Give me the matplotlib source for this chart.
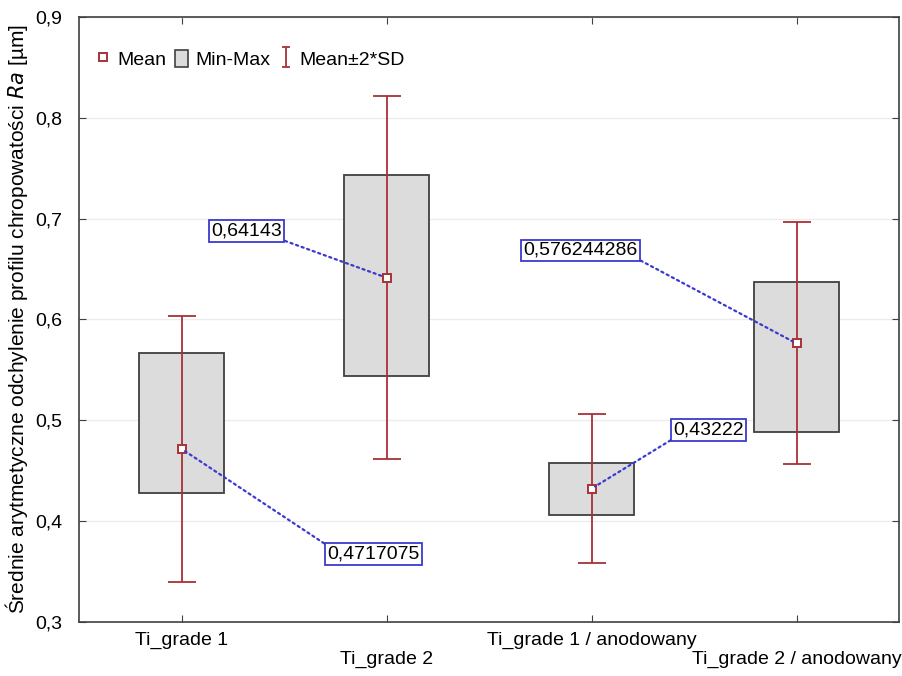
import matplotlib.pyplot as plt
from matplotlib.lines import Line2D
from matplotlib.patches import Patch
from matplotlib.path import Path

plt.rcParams['font.family'] = ['Liberation Sans', 'DejaVu Sans']

# dane
grupy = ["Ti_grade 1", "Ti_grade 2", "Ti_grade 1 / anodowany", "Ti_grade 2 / anodowany"]
srednia = [0.4717075, 0.64143, 0.43222, 0.576244286]
etykiety = ["0,4717075", "0,64143", "0,43222", "0,576244286"]
minimum = [0.428, 0.544, 0.406, 0.488]
maksimum = [0.567, 0.743, 0.458, 0.637]
dwa_sd = [0.132, 0.180, 0.074, 0.120]
y_ticks = [0.3, 0.4, 0.5, 0.6, 0.7, 0.8, 0.9]

# polozenie opisow (naroznik tekstu) i punkt zaczepienia linii
opis_xy = [(0.71, 0.376), (0.49, 0.679), (2.40, 0.482), (2.225, 0.660)]
opis_align = [("left", "top"), ("right", "bottom"), ("left", "bottom"), ("right", "bottom")]
opis_rel = [(0, 1), (1, 0), (0, 0), (1, 0)]

czerwony = '#a83236'
niebieski = '#3a3ad0'
fs = 14

fig = plt.figure(figsize=(9.02, 6.76), dpi=100)
ax = fig.add_axes([0.0876, 0.0799, 0.9091, 0.895])

x = range(len(grupy))
for i in x:
    ax.bar(i, maksimum[i] - minimum[i], bottom=minimum[i], width=0.41,
           color='#dcdcdc', edgecolor='#404040', linewidth=1.3, zorder=2)
ax.errorbar(list(x), srednia, yerr=dwa_sd, fmt='none', ecolor=czerwony,
            elinewidth=1.3, capsize=10, capthick=1.3, zorder=3)
ax.plot(list(x), srednia, 's', markersize=6, markerfacecolor='white',
        markeredgecolor=czerwony, markeredgewidth=1.4, linestyle='none', zorder=4)

for i in x:
    ax.annotate(etykiety[i], xy=(i, srednia[i]), xytext=opis_xy[i],
                ha=opis_align[i][0], va=opis_align[i][1], fontsize=fs,
                bbox=dict(boxstyle='square,pad=0.12', fc='white', ec=niebieski, lw=1.3),
                arrowprops=dict(arrowstyle='-', color=niebieski, linestyle=':',
                                linewidth=1.6, relpos=opis_rel[i], shrinkA=0, shrinkB=3),
                zorder=5)

ax.set_xlim(-0.5, 3.5)
ax.set_ylim(0.3, 0.9)
ax.set_yticks(y_ticks)
ax.set_yticklabels([f"{v:.1f}".replace('.', ',') for v in y_ticks])
ax.set_xticks(list(x))
ax.set_xticklabels([g if i % 2 == 0 else "\n" + g for i, g in enumerate(grupy)])
ax.tick_params(direction='in', length=5, top=True, right=True, labelsize=fs,
               color='#404040')
ax.tick_params(axis='x', pad=7)
ax.tick_params(axis='y', pad=12)
ax.yaxis.grid(True, color='#ececec', linewidth=1)
ax.set_axisbelow(True)
for s in ax.spines.values():
    s.set_color('#404040')
    s.set_linewidth(1.2)

ax.set_ylabel(r"Średnie arytmetyczne odchylenie profilu chropowatości $\it{Ra}$ [µm]",
              fontsize=15, labelpad=4)

# znacznik "I" do legendy
ibar = Path([(-0.4, 1), (0.4, 1), (0, 1), (0, -1), (-0.4, -1), (0.4, -1)],
            [Path.MOVETO, Path.LINETO, Path.MOVETO, Path.LINETO, Path.MOVETO, Path.LINETO])
uchwyty = [
    Line2D([], [], marker='s', markersize=6, markerfacecolor='white',
           markeredgecolor=czerwony, markeredgewidth=1.4, linestyle='none'),
    Patch(facecolor='#dcdcdc', edgecolor='#404040', linewidth=1.2),
    Line2D([], [], marker=ibar, markersize=15, color=czerwony,
           markeredgewidth=1.3, linestyle='none'),
]
ax.legend(uchwyty, ["Mean", "Min-Max", "Mean±2*SD"], loc='upper left',
          bbox_to_anchor=(0.0, 0.975), ncol=3, frameon=False, fontsize=fs,
          handlelength=0.7, handleheight=1.0, handletextpad=0.35, columnspacing=0.45)

plt.savefig("out.png")
